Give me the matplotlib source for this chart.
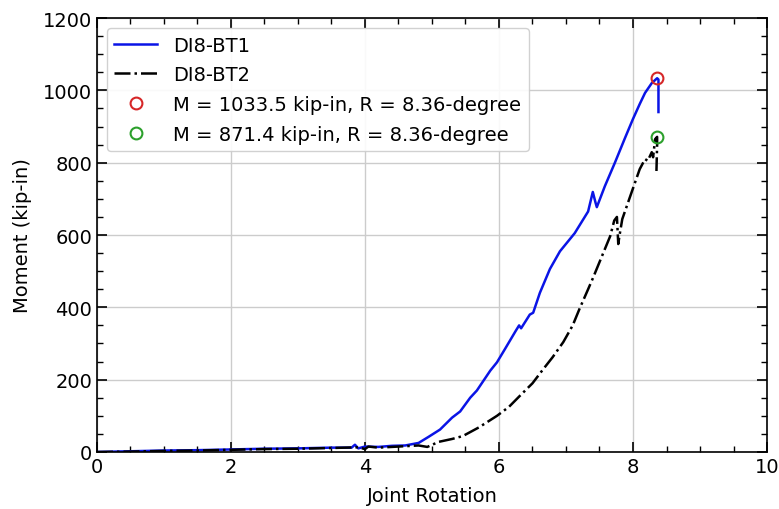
import numpy as np
import matplotlib
matplotlib.use("agg")
import matplotlib.pyplot as plt
from matplotlib.ticker import MultipleLocator

# DI8-BT1 (blue) joint rotation / moment
bt1_rot = [0.0, 0.5, 1.0, 1.5, 2.0, 2.5, 3.0, 3.5, 3.8, 3.85, 3.9, 4.0, 4.2, 4.4, 4.6,
           4.8, 4.95, 5.12, 5.3, 5.42, 5.57, 5.67, 5.87, 5.97, 6.09, 6.25, 6.3, 6.33,
           6.46, 6.51, 6.61, 6.76, 6.91, 7.13, 7.33, 7.40, 7.44, 7.46, 7.58, 7.73,
           7.88, 8.0, 8.1, 8.18, 8.28, 8.36, 8.38, 8.38]
bt1_mom = [0, 2, 4, 5, 7, 9, 10, 12, 12, 20, 10, 15, 14, 17, 18,
           25, 42, 62, 95, 112, 150, 170, 225, 248, 285, 335, 350, 342,
           380, 385, 440, 506, 555, 605, 665, 719, 690, 677, 735, 800,
           868, 921, 962, 993, 1020, 1033.5, 1030, 940]

# DI8-BT2 (black dash-dot)
bt2_rot = [0.0, 0.5, 1.0, 1.5, 2.0, 2.5, 3.0, 3.5, 3.9, 4.0, 4.05, 4.2, 4.4, 4.6, 4.8,
           4.93, 5.1, 5.3, 5.46, 5.7, 5.97, 6.15, 6.31, 6.5, 6.66, 6.8, 6.96, 7.1,
           7.2, 7.33, 7.4, 7.5, 7.6, 7.66, 7.72, 7.76, 7.78, 7.8, 7.84, 7.96, 8.1,
           8.18, 8.22, 8.28, 8.3, 8.33, 8.36, 8.36, 8.35]
bt2_mom = [0, 1, 3, 4, 6, 8, 9, 11, 13, 8, 15, 12, 14, 16, 18,
           14, 28, 36, 44, 68, 100, 125, 155, 190, 229, 262, 304, 350,
           395, 450, 480, 525, 570, 597, 640, 650, 575, 600, 644, 708, 782,
           810, 805, 829, 815, 865, 871.4, 850, 777]

peak_rot = [8.36, 8.36]
peak_mom = [1033.5, 871.4]
peak_labels = ["M = 1033.5 kip-in, R = 8.36-degree",
               "M = 871.4 kip-in, R = 8.36-degree"]
peak_colors = ["#d62728", "#2ca02c"]

plt.rcParams["font.family"] = "DejaVu Sans"

fig = plt.figure(figsize=(7.79, 5.10), dpi=100)
ax = fig.add_axes([0.1245, 0.1118, 0.8601, 0.8509])

ax.plot(bt1_rot, bt1_mom, color="#0a14e6", lw=1.8, label="DI8-BT1")
ax.plot(bt2_rot, bt2_mom, color="black", lw=1.8, ls="-.", label="DI8-BT2")
for r, m, lab, c in zip(peak_rot, peak_mom, peak_labels, peak_colors):
    ax.plot(r, m, "o", mfc="none", mec=c, ms=8.5, mew=1.5, ls="none", label=lab)

ax.set_xlim(0, 10)
ax.set_ylim(0, 1200)
ax.xaxis.set_major_locator(MultipleLocator(2))
ax.xaxis.set_minor_locator(MultipleLocator(0.5))
ax.yaxis.set_major_locator(MultipleLocator(200))
ax.yaxis.set_minor_locator(MultipleLocator(50))
ax.tick_params(which="both", direction="in", top=True, right=True, labelsize=14)
ax.tick_params(which="major", length=7, width=1.2)
ax.tick_params(which="minor", length=4, width=1)
ax.grid(True, which="major", color="#cccccc", lw=1)
for s in ax.spines.values():
    s.set_linewidth(1.2)

ax.set_xlabel("Joint Rotation", fontsize=14, labelpad=7)
ax.set_ylabel("Moment (kip-in)", fontsize=14, labelpad=8)
ax.legend(loc="upper left", fontsize=14, framealpha=0.9, borderaxespad=0.5,
          handlelength=2.2, labelspacing=0.55)

fig.savefig("out.png", dpi=100)
